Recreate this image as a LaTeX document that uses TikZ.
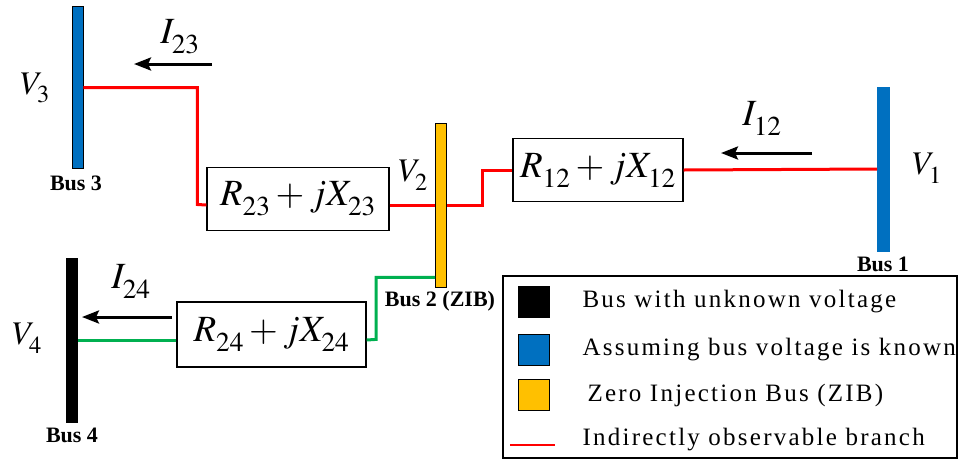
\documentclass[tikz,border=0pt]{standalone}
\usepackage{mathptmx}
\usepackage{fontspec}
\setmainfont{Liberation Serif}
\newfontfamily\legendfont[LetterSpace=9]{Liberation Serif}
\usetikzlibrary{arrows.meta}

\definecolor{busBlue}{RGB}{0,112,192}
\definecolor{busYellow}{RGB}{255,192,0}
\definecolor{lineRed}{RGB}{255,0,0}
\definecolor{lineGreen}{RGB}{0,176,80}

% lowered subscript, as in the drawing
\newcommand{\lsub}[1]{_{\raisebox{-0.12em}{$\scriptstyle #1$}}}

\begin{document}
\begin{tikzpicture}[x=1pt, y=-1pt,
    busbar/.style={draw=black, line width=0.8pt, minimum width=11pt, minimum height=162pt, inner sep=0pt},
    impbox/.style={draw, line width=1.3pt, fill=white, minimum height=63pt, inner sep=3pt, font=\fontsize{37}{40}\selectfont},
    buslabel/.style={font=\fontsize{22}{24}\selectfont\bfseries},
    volt/.style={font=\fontsize{33}{36}\selectfont},
    curr/.style={font=\fontsize{37}{40}\selectfont},
    redline/.style={draw=lineRed, line width=3pt},
    greenline/.style={draw=lineGreen, line width=3pt},
    currarrow/.style={line width=3pt, -{Stealth[length=17pt, width=13pt, inset=3pt]}},
    legsq/.style={draw=black, line width=1pt, minimum size=31pt, inner sep=0pt},
    legtext/.style={anchor=west, font=\fontsize{25}{28}\legendfont}]

    \useasboundingbox (0,0) rectangle (960,461);

    % Buses
    \node[busbar, fill=busBlue] (bus3) at (77.5,87.5) {};
    \node[busbar, fill=busYellow, minimum height=164pt] (bus2) at (441,205) {};
    \node[busbar, fill=busBlue, draw=busBlue, minimum width=12pt, minimum height=164pt] (bus1) at (883.5,169) {};
    \node[busbar, fill=black, minimum height=164pt] (bus4) at (72,340) {};

    \node[buslabel] (lab3) at (76,183) {Bus 3};
    \node[buslabel] (lab2) at (440,301) {Bus 2 (ZIB)};
    \node[buslabel] (lab1) at (883,264) {Bus 1};
    \node[buslabel] (lab4) at (72,435) {Bus 4};

    \node[volt] (v3) at (35,88) {$V\lsub{3}$};
    \node[volt] (v2) at (413,175) {$V\lsub{2}$};
    \node[volt] (v1) at (927,168) {$V\lsub{1}$};
    \node[volt] (v4) at (27,338) {$V\lsub{4}$};

    % Line impedances
    \node[impbox, minimum width=182pt] (z23) at (298,199) {$R\lsub{23}+jX\lsub{23}$};
    \node[impbox, minimum width=170pt] (z12) at (598,170) {$R\lsub{12}+jX\lsub{12}$};
    \node[impbox, minimum width=189pt, minimum height=65pt] (z24) at (271.5,334.5) {$R\lsub{24}+jX\lsub{24}$};

    % Branches
    \draw[redline] (bus3.east) -| ++(114,117) -- (z23.west |- bus2);
    \draw[redline] (z23.east |- bus2) -- (bus2.west);
    \draw[redline] (bus2.east) -- ++(36,0) |- (z12.west);
    \draw[redline] (z12.east) -- (bus1.west);
    \draw[greenline] (bus2.south west) ++(0,-10) -| ++(-59,62) -- (z24.east |- bus4);
    \draw[greenline] (z24.west |- bus4) -- (bus4.east);

    % Currents
    \coordinate (i23tail) at (212,64);
    \coordinate (i23head) at (134,64);
    \draw[currarrow] (i23tail) -- (i23head);
    \node[curr] (i23) at (180,37) {$I\lsub{23}$};

    \coordinate (i12tail) at (812,153);
    \coordinate (i12head) at (721,153);
    \draw[currarrow] (i12tail) -- (i12head);
    \node[curr] (i12) at (762,118) {$I\lsub{12}$};

    \coordinate (i24tail) at (172,317);
    \coordinate (i24head) at (82,317);
    \draw[currarrow] (i24tail) -- (i24head);
    \node[curr] (i24) at (131,281) {$I\lsub{24}$};

    % Legend
    \node[draw, line width=1.3pt, minimum width=454pt, minimum height=182pt, inner sep=0pt] (legend) at (730,367) {};
    \node[legsq, fill=black] (squnknown) at (533.5,301.5) {};
    \node[legsq, fill=busBlue] (sqknown) at (533.5,349.5) {};
    \node[legsq, fill=busYellow] (sqzib) at (533.5,395) {};
    \coordinate (redA) at (510,445);
    \coordinate (redB) at (555,445);
    \draw[draw=lineRed, line width=2.2pt] (redA) -- (redB);

    \node[legtext] (tunknown) at (579,302) {Bus with unknown voltage};
    \node[legtext] (tknown) at (579,350) {Assuming bus voltage is known};
    \node[legtext] (tzib) at (584,395) {Zero Injection Bus (ZIB)};
    \node[legtext] (tbranch) at (579,440) {Indirectly observable branch};
\end{tikzpicture}
\end{document}
